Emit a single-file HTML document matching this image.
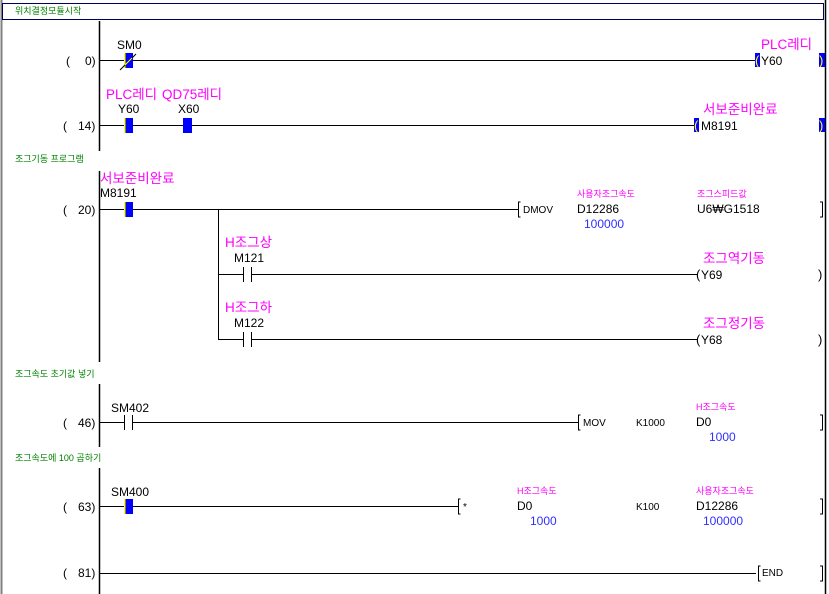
<!DOCTYPE html>
<html><head><meta charset="utf-8"><style>
html,body{margin:0;padding:0;background:#fff;width:829px;height:594px;overflow:hidden}
svg{display:block}
text{font-family:"Liberation Sans","Noto Sans CJK KR",sans-serif}
.l{font-size:12px;fill:#000}
.m{font-size:13.5px;fill:#ff00ff}
.ms{font-size:9px;fill:#ff00ff}
.g{font-size:9px;fill:#008000}
.n{font-size:12px;fill:#000}
.b{font-size:12px;fill:#3030ff}
.s{font-size:10px;fill:#000}
</style></head><body>
<svg width="829" height="594" viewBox="0 0 829 594" xmlns="http://www.w3.org/2000/svg">
<rect x="0" y="0" width="829" height="594" fill="#fff"/>
<line x1="1.5" y1="0" x2="1.5" y2="594" stroke="#808080" stroke-width="2"/>
<rect x="2.5" y="3.5" width="821" height="16" fill="none" stroke="#000060" stroke-width="1"/>
<text x="15" y="14" class="g">위치결정모듈시작</text>
<line x1="825.5" y1="0" x2="825.5" y2="594" stroke="#000" stroke-width="1.5"/>
<g stroke="#000" stroke-width="1.5">
<line x1="99.5" y1="21" x2="99.5" y2="151"/>
<line x1="99.5" y1="171" x2="99.5" y2="362"/>
<line x1="99.5" y1="384" x2="99.5" y2="447"/>
<line x1="99.5" y1="468" x2="99.5" y2="594"/>
</g>
<g class="n" fill="#000">
<text x="66" y="65" class="n">(</text><text x="85" y="65" class="n">0)</text>
<text x="63" y="130" class="n">(</text><text x="78" y="130" class="n">14)</text>
<text x="63" y="214" class="n">(</text><text x="78" y="214" class="n">20)</text>
<text x="63" y="427" class="n">(</text><text x="78" y="427" class="n">46)</text>
<text x="63" y="511" class="n">(</text><text x="78" y="511" class="n">63)</text>
<text x="63" y="577" class="n">(</text><text x="78" y="577" class="n">81)</text>
</g>
<g stroke="#000" stroke-width="1">
<line x1="100" y1="60.5" x2="755" y2="60.5"/>
<line x1="100" y1="125.5" x2="694" y2="125.5"/>
<line x1="100" y1="209.5" x2="518" y2="209.5"/>
<line x1="218.5" y1="209" x2="218.5" y2="340"/>
<line x1="218" y1="274.5" x2="243" y2="274.5"/><line x1="251" y1="274.5" x2="697" y2="274.5"/>
<line x1="218" y1="339.5" x2="243" y2="339.5"/><line x1="251" y1="339.5" x2="697" y2="339.5"/>
<line x1="100" y1="422.5" x2="124" y2="422.5"/><line x1="132" y1="422.5" x2="578" y2="422.5"/>
<line x1="100" y1="506.5" x2="458" y2="506.5"/>
<line x1="100" y1="573.5" x2="756" y2="573.5"/>
<line x1="124.5" y1="415" x2="124.5" y2="430"/><line x1="132.5" y1="415" x2="132.5" y2="430"/>
<line x1="243.5" y1="267" x2="243.5" y2="282"/><line x1="251.5" y1="267" x2="251.5" y2="282"/>
<line x1="243.5" y1="332" x2="243.5" y2="347"/><line x1="251.5" y1="332" x2="251.5" y2="347"/>
</g>
<g>
<rect x="124" y="53" width="9" height="15" fill="#0000ff"/><rect x="124" y="53" width="1.5" height="15" fill="#ffff00"/>
<rect x="124" y="118" width="9" height="15" fill="#0000ff"/><rect x="124" y="118" width="1.5" height="15" fill="#ffff00"/>
<rect x="183" y="118" width="9" height="15" fill="#0000ff"/>
<rect x="124" y="202" width="9" height="15" fill="#0000ff"/><rect x="124" y="202" width="1.5" height="15" fill="#ffff00"/>
<rect x="124" y="499" width="9" height="15" fill="#0000ff"/><rect x="124" y="499" width="1.5" height="15" fill="#ffff00"/>
</g>
<line x1="120" y1="70" x2="136" y2="54" stroke="#000" stroke-width="1"/>
<line x1="125" y1="65" x2="132" y2="58" stroke="#ffff00" stroke-width="1"/>
<text x="117" y="49" class="l">SM0</text>
<text x="106" y="99" class="m">PLC레디</text><text x="118" y="113" class="l">Y60</text>
<text x="162" y="99" class="m">QD75레디</text><text x="178" y="113" class="l">X60</text>
<text x="15" y="162" class="g">조그기동 프로그램</text>
<text x="100" y="183" class="m">서보준비완료</text><text x="100" y="197" class="l">M8191</text>
<text x="225" y="247" class="m">H조그상</text><text x="234" y="262" class="l">M121</text>
<text x="225" y="312" class="m">H조그하</text><text x="234" y="327" class="l">M122</text>
<text x="15" y="377" class="g">조그속도 초기값 넣기</text>
<text x="111" y="412" class="l">SM402</text>
<text x="15" y="461" class="g">조그속도에 100 곱하기</text>
<text x="111" y="496" class="l">SM400</text>
<rect x="755" y="53" width="5" height="14" fill="#0000ff"/>
<text x="755" y="65" font-size="13" fill="#ffff00">(</text>
<text x="761" y="65" class="l">Y60</text>
<text x="761" y="49" class="m">PLC레디</text>
<rect x="819" y="53" width="6" height="14" fill="#0000ff"/><text x="819" y="65" font-size="13" fill="#ffff00">)</text>
<rect x="694" y="118" width="5" height="14" fill="#0000ff"/>
<text x="694" y="130" font-size="13" fill="#ffff00">(</text>
<text x="701" y="130" class="l">M8191</text>
<text x="703" y="114" class="m">서보준비완료</text>
<rect x="819" y="118" width="6" height="14" fill="#0000ff"/><text x="819" y="130" font-size="13" fill="#ffff00">)</text>
<text x="696" y="279" font-size="13" fill="#000">(</text><text x="701" y="279" class="l">Y69</text>
<text x="703" y="263" class="m">조그역기동</text><text x="818" y="279" font-size="13" fill="#000">)</text>
<text x="696" y="344" font-size="13" fill="#000">(</text><text x="701" y="344" class="l">Y68</text>
<text x="703" y="328" class="m">조그정기동</text><text x="818" y="344" font-size="13" fill="#000">)</text>
<g fill="none" stroke="#000" stroke-width="1">
<path d="M520.5 202 H518.5 V217 H520.5"/><path d="M820 202 H822.5 V217 H820"/>
<path d="M580.5 415 H578.5 V430 H580.5"/><path d="M820 415 H822.5 V430 H820"/>
<path d="M460.5 499 H458.5 V514 H460.5"/><path d="M820 499 H822.5 V514 H820"/>
<path d="M760.5 566 H758.5 V581 H760.5"/><path d="M820 566 H822.5 V581 H820"/>
</g>
<text x="523" y="213" class="s">DMOV</text>
<text x="577" y="197" class="ms">사용자조그속도</text><text x="577" y="213" class="l">D12286</text><text x="584" y="228" class="b">100000</text>
<text x="697" y="197" class="ms">조그스피드값</text><text x="697" y="213" class="l">U6₩G1518</text>
<text x="583" y="426" class="s">MOV</text>
<text x="636" y="426" class="s">K1000</text>
<text x="696" y="410" class="ms">H조그속도</text><text x="696" y="426" class="l">D0</text><text x="709" y="441" class="b">1000</text>
<text x="463" y="510" class="s">*</text>
<text x="517" y="494" class="ms">H조그속도</text><text x="517" y="510" class="l">D0</text><text x="530" y="525" class="b">1000</text>
<text x="636" y="510" class="s">K100</text>
<text x="696" y="494" class="ms">사용자조그속도</text><text x="696" y="510" class="l">D12286</text><text x="703" y="525" class="b">100000</text>
<text x="762" y="576" class="s">END</text>
</svg>
</body></html>
